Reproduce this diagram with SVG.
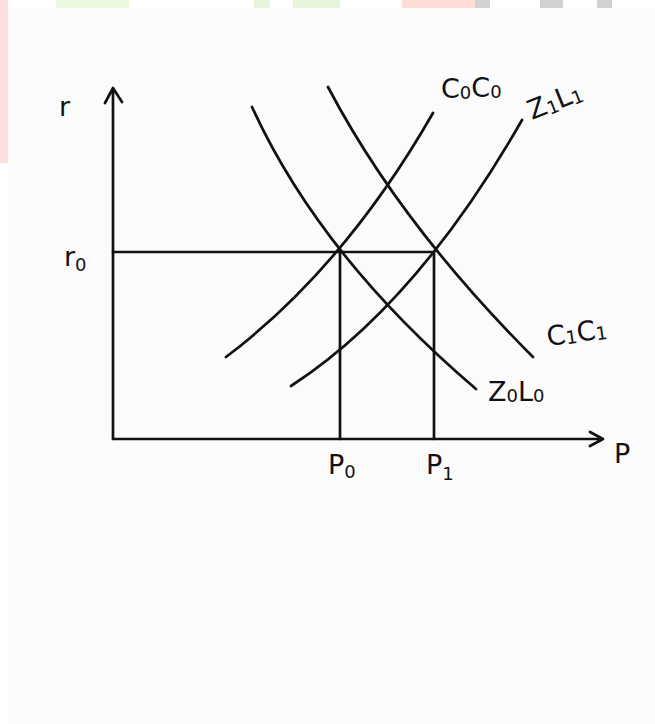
<svg xmlns="http://www.w3.org/2000/svg" width="655" height="724" viewBox="0 0 655 724">
<style>
.ln{fill:none;stroke:#111;stroke-width:2.7;stroke-linecap:round;stroke-linejoin:round}
.lb{font-family:"DejaVu Sans","Liberation Sans",sans-serif;fill:#111;font-size:27px}
.sb{font-size:18px}
</style>
<rect x="0" y="0" width="655" height="724" fill="#ffffff"/>
<g id="watermark">
<rect x="0" y="0" width="8" height="163" fill="#ffdede"/>
<rect x="56" y="0" width="73" height="8" fill="#eaf8e0"/>
<rect x="254" y="0" width="16" height="8" fill="#e6f4dc"/>
<rect x="293" y="0" width="47" height="8" fill="#e6f4dc"/>
<rect x="402" y="0" width="73" height="8" fill="#ffdcd6"/>
<rect x="475" y="0" width="15" height="8" fill="#d2d2d2"/>
<rect x="540" y="0" width="23" height="8" fill="#d2d2d2"/>
<rect x="597" y="0" width="15" height="8" fill="#d2d2d2"/>
</g>
<rect id="panel" x="8" y="8" width="647" height="716" fill="#fbfbfb"/>
<g id="connectors">
<path class="ln" d="M113 439 L113 88 M105 103 L113 88 L122 102"/>
<path class="ln" d="M113 439 L603 439 M590 432 L603 439 L590 446"/>
<path class="ln" d="M113 252 L434 252"/>
<path class="ln" d="M340 252 L340 439"/>
<path class="ln" d="M434 252 L434 439"/>
</g>
<g id="curve-L0"><path class="ln" d="M252 107 Q320 256 476 389"/></g>
<g id="curve-C1"><path class="ln" d="M328 87 Q400 224 533 357"/></g>
<g id="curve-C0"><path class="ln" d="M226 357 Q344 268 433 113"/></g>
<g id="curve-Z1"><path class="ln" d="M291 386 Q416.7 304.3 522 120"/></g>
<g id="labels">
<text class="lb" x="59" y="116">r</text>
<text class="lb" x="64" y="266">r<tspan class="sb" dy="5">0</tspan></text>
<text class="lb" x="614" y="463">P</text>
<text class="lb" x="328" y="474">P<tspan class="sb" dy="4">0</tspan></text>
<text class="lb" x="426" y="474">P<tspan class="sb" dy="6">1</tspan></text>
<text class="lb" x="441" y="98">C<tspan class="sb" dy="1">0</tspan><tspan dy="-2">C</tspan><tspan class="sb" dy="1">0</tspan></text>
<text class="lb" x="532" y="120" transform="rotate(-22 532 120)">Z<tspan class="sb" dy="2">1</tspan><tspan dy="-2">L</tspan><tspan class="sb" dy="2">1</tspan></text>
<text class="lb" x="548" y="346" transform="rotate(-8 548 346)">C<tspan class="sb" dy="1">1</tspan><tspan dy="-1">C</tspan><tspan class="sb" dy="1">1</tspan></text>
<text class="lb" x="488" y="401">Z<tspan class="sb" dy="1">0</tspan><tspan dy="-1">L</tspan><tspan class="sb" dy="1">0</tspan></text>
</g>
</svg>
